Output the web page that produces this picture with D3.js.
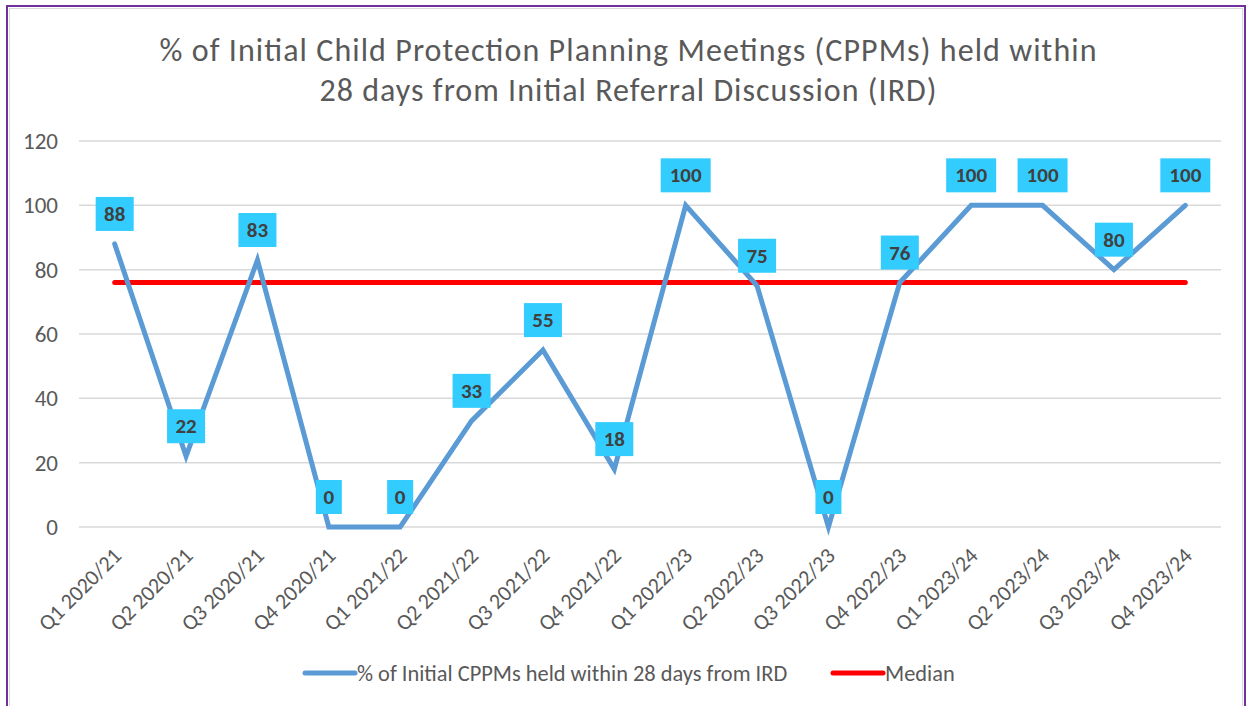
<!DOCTYPE html>
<html>
<head>
<meta charset="utf-8">
<style>
  body { margin: 0; background: #ffffff; }
  text { font-family: Carlito, "Open Sans", "Liberation Sans", sans-serif; }
</style>
</head>
<body>
<svg id="chart"></svg>
<script src="https://d3js.org/d3.v7.min.js"></script>
<script>
  const WIDTH = 1249
  const HEIGHT = 706

  const quarters = ['Q1 2020/21', 'Q2 2020/21', 'Q3 2020/21', 'Q4 2020/21',
    'Q1 2021/22', 'Q2 2021/22', 'Q3 2021/22', 'Q4 2021/22',
    'Q1 2022/23', 'Q2 2022/23', 'Q3 2022/23', 'Q4 2022/23',
    'Q1 2023/24', 'Q2 2023/24', 'Q3 2023/24', 'Q4 2023/24']
  const pctWithin28 = [88, 22, 83, 0, 0, 33, 55, 18, 100, 75, 0, 76, 100, 100, 80, 100]
  const median = 76
  const yTicks = [0, 20, 40, 60, 80, 100, 120]
  const titleLines = ['% of Initial Child Protection Planning Meetings (CPPMs) held within',
    '28 days from Initial Referral Discussion (IRD)']
  const FONT = 'Carlito, "Open Sans", "Liberation Sans", sans-serif'

  let svg = d3.select('#chart')
    .attr('width', WIDTH)
    .attr('height', HEIGHT)

  // frame
  svg.append('rect')
    .attr('x', 7).attr('y', 6)
    .attr('width', 1238).attr('height', 710)
    .attr('fill', 'white')
    .attr('stroke', '#7030a0')
    .attr('stroke-width', 2)
  svg.append('rect')
    .attr('x', 9.5).attr('y', 8.5)
    .attr('width', 1233).attr('height', 710)
    .attr('fill', 'none')
    .attr('stroke', '#d9d9d9')
    .attr('stroke-width', 1)

  // title, stretched to the width of the original
  const titleWidths = [937, 617]
  svg.selectAll('.title')
    .data(titleLines)
    .enter()
    .append('text')
    .attr('class', 'title')
    .attr('x', 628)
    .attr('y', (d, i) => 61 + i * 40)
    .attr('text-anchor', 'middle')
    .attr('font-size', 32)
    .attr('fill', '#595959')
    .attr('textLength', (d, i) => titleWidths[i])
    .attr('lengthAdjust', 'spacing')
    .text(d => d)

  let x = d3.scaleBand()
    .domain(quarters)
    .range([79, 1221])

  let y = d3.scaleLinear()
    .domain([0, 120])
    .range([527, 141])

  // gridlines
  svg.selectAll('.grid')
    .data(yTicks)
    .enter()
    .append('line')
    .attr('x1', 79).attr('x2', 1221)
    .attr('y1', d => y(d)).attr('y2', d => y(d))
    .attr('stroke', '#d9d9d9')
    .attr('stroke-width', 1.5)

  // y axis labels
  let yAxis = svg.append('g')
    .attr('transform', 'translate(58,0)')
    .call(d3.axisLeft(y).tickValues(yTicks).tickSize(0).tickPadding(0))
  yAxis.select('.domain').remove()
  yAxis.selectAll('text')
    .attr('font-size', 23)
    .attr('fill', '#595959')
    .style('font-family', FONT)

  // x axis labels, rotated
  let xAxis = svg.append('g')
    .attr('transform', 'translate(0,527)')
    .call(d3.axisBottom(x).tickSize(0).tickPadding(0))
  xAxis.select('.domain').remove()
  xAxis.selectAll('text')
    .attr('font-size', 22)
    .attr('fill', '#595959')
    .attr('text-anchor', 'end')
    .attr('dy', 0)
    .attr('transform', 'translate(8,30) rotate(-45)')
    .style('font-family', FONT)

  let cx = d => x(d) + x.bandwidth() / 2

  // median line
  svg.append('line')
    .attr('x1', cx(quarters[0]))
    .attr('x2', cx(quarters[quarters.length - 1]))
    .attr('y1', y(median)).attr('y2', y(median))
    .attr('stroke', '#ff0000')
    .attr('stroke-width', 5)
    .attr('stroke-linecap', 'round')

  // data line
  let line = d3.line()
    .x((d, i) => cx(quarters[i]))
    .y(d => y(d))
  svg.append('path')
    .datum(pctWithin28)
    .attr('d', line)
    .attr('fill', 'none')
    .attr('stroke', '#5b9bd5')
    .attr('stroke-width', 5)
    .attr('stroke-linejoin', 'miter')
    .attr('stroke-linecap', 'round')

  // data labels
  let boxWidth = d => 14 + 12 * String(d).length
  let labels = svg.selectAll('.lab')
    .data(pctWithin28)
    .enter()
    .append('g')
    .attr('transform', (d, i) => 'translate(' + cx(quarters[i]) + ',' + (y(d) - 30) + ')')
  labels.append('rect')
    .attr('x', d => -boxWidth(d) / 2)
    .attr('y', -17)
    .attr('width', boxWidth)
    .attr('height', 34)
    .attr('fill', '#33ccff')
  labels.append('text')
    .attr('text-anchor', 'middle')
    .attr('y', 7)
    .attr('font-size', 21)
    .attr('font-weight', 'bold')
    .attr('fill', '#404040')
    .text(d => d)

  // legend
  let legend = [
    { name: '% of Initial CPPMs held within 28 days from IRD', color: '#5b9bd5', x: 305 },
    { name: 'Median', color: '#ff0000', x: 833 }
  ]
  let lg = svg.selectAll('.legend')
    .data(legend)
    .enter()
    .append('g')
    .attr('transform', d => 'translate(' + d.x + ',673)')
  lg.append('line')
    .attr('x1', 0).attr('x2', 50)
    .attr('stroke', d => d.color)
    .attr('stroke-width', 5)
    .attr('stroke-linecap', 'round')
  lg.append('text')
    .attr('x', 52)
    .attr('y', 7.5)
    .attr('font-size', 22.4)
    .attr('fill', '#595959')
    .text(d => d.name)
</script>
</body>
</html>
